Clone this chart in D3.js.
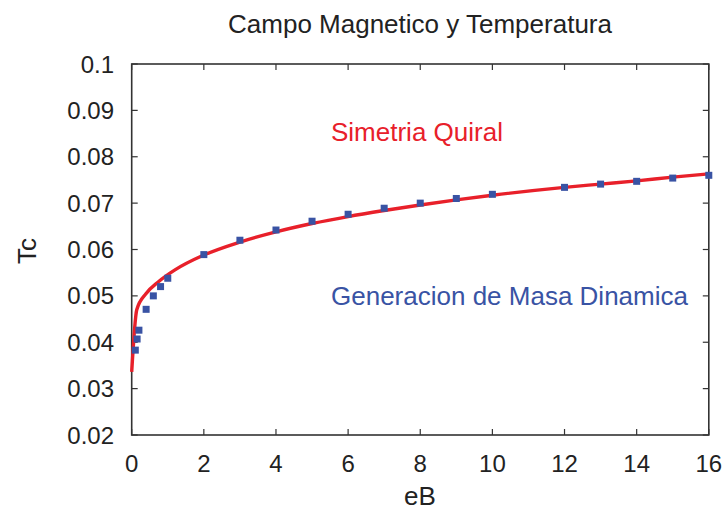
<!DOCTYPE html>
<html>
<head>
<meta charset="utf-8">
<script src="https://cdn.jsdelivr.net/npm/d3@7"></script>
<style>
  html, body { margin: 0; padding: 0; background: #fff; }
  text { font-family: "Liberation Sans", Arial, sans-serif; fill: #222; }
</style>
</head>
<body>
<svg id="chart" width="727" height="512"></svg>
<script>
// ---- data ----
const pointX = [0.1, 0.15, 0.2, 0.4, 0.6, 0.8, 1, 2, 3, 4, 5, 6, 7, 8, 9, 10, 12, 13, 14, 15, 16];
const pointTc = [0.0383, 0.0407, 0.0426, 0.0471, 0.0500, 0.0520, 0.0538, 0.0589, 0.0620, 0.0642,
                 0.0661, 0.0676, 0.0689, 0.0700, 0.0710, 0.0719, 0.0734, 0.0741, 0.0747, 0.0754, 0.0760];
const curveX = [0, 0.14, 0.4, 0.75, 1.2, 2, 3, 4, 5, 6, 7, 8, 9, 10, 12, 13, 14, 15, 16];
const curveTc = [0.0336, 0.0470, 0.0505, 0.0531, 0.0556, 0.0588, 0.0616, 0.0638, 0.0656,
                 0.0671, 0.0684, 0.0696, 0.0707, 0.0717, 0.0734, 0.0741, 0.0748, 0.0756, 0.0763];
const xTicks = [0, 2, 4, 6, 8, 10, 12, 14, 16];
const yTicks = [0.02, 0.03, 0.04, 0.05, 0.06, 0.07, 0.08, 0.09, 0.1];
const yTickLabels = ["0.02", "0.03", "0.04", "0.05", "0.06", "0.07", "0.08", "0.09", "0.1"];
const titleText = "Campo Magnetico y Temperatura";
const xLabel = "eB";
const yLabel = "Tc";
const redLabel = "Simetria Quiral";
const blueLabel = "Generacion de Masa Dinamica";

// ---- layout ----
const svg = d3.select("#chart");
const L = 131.7, R = 708.8, T = 64, B = 435;
const x = d3.scaleLinear().domain([0, 16]).range([L, R]);
const y = d3.scaleLinear().domain([0.02, 0.1]).range([B, T]);
const red = "#e8202a", blue = "#3953a4", axisCol = "#333";
const fs = 24, fsBig = 26;

// ticks (inward, mirrored)
const tickLen = 6;
const g = svg.append("g");
xTicks.forEach(v => {
  g.append("line").attr("x1", x(v)).attr("x2", x(v)).attr("y1", B).attr("y2", B - tickLen)
    .attr("stroke", axisCol).attr("stroke-width", 1.2);
  g.append("line").attr("x1", x(v)).attr("x2", x(v)).attr("y1", T).attr("y2", T + tickLen)
    .attr("stroke", axisCol).attr("stroke-width", 1.2);
  g.append("text").attr("x", x(v)).attr("y", 472).attr("text-anchor", "middle")
    .attr("font-size", fs).text(v);
});
yTicks.forEach((v, i) => {
  g.append("line").attr("x1", L).attr("x2", L + tickLen).attr("y1", y(v)).attr("y2", y(v))
    .attr("stroke", axisCol).attr("stroke-width", 1.2);
  g.append("line").attr("x1", R).attr("x2", R - tickLen).attr("y1", y(v)).attr("y2", y(v))
    .attr("stroke", axisCol).attr("stroke-width", 1.2);
  g.append("text").attr("x", 114).attr("y", y(v) + 8.5).attr("text-anchor", "end")
    .attr("font-size", fs).text(yTickLabels[i]);
});

// frame
svg.append("rect").attr("x", L).attr("y", T).attr("width", R - L).attr("height", B - T)
  .attr("fill", "none").attr("stroke", axisCol).attr("stroke-width", 1.6);

// curve
const curveData = curveX.map((v, i) => [v, curveTc[i]]);
const line = d3.line().x(d => x(d[0])).y(d => y(d[1])).curve(d3.curveMonotoneX);
svg.append("path").datum(curveData).attr("d", line)
  .attr("fill", "none").attr("stroke", red).attr("stroke-width", 3.4);

// points
const ps = 7;
svg.append("g").selectAll("rect").data(pointX.map((v, i) => [v, pointTc[i]])).join("rect")
  .attr("x", d => x(d[0]) - ps / 2).attr("y", d => y(d[1]) - ps / 2)
  .attr("width", ps).attr("height", ps).attr("fill", blue);

// texts
svg.append("text").attr("x", 420).attr("y", 33).attr("text-anchor", "middle")
  .attr("font-size", fsBig).text(titleText);
svg.append("text").attr("x", 420).attr("y", 505).attr("text-anchor", "middle")
  .attr("font-size", fsBig).text(xLabel);
svg.append("text").attr("transform", "translate(36,251) rotate(-90)").attr("text-anchor", "middle")
  .attr("font-size", fsBig).text(yLabel);
svg.append("text").attr("x", 331).attr("y", 141).attr("font-size", fsBig)
  .style("fill", red).text(redLabel);
svg.append("text").attr("x", 331).attr("y", 305).attr("font-size", fsBig)
  .style("fill", blue).text(blueLabel);
</script>
</body>
</html>
